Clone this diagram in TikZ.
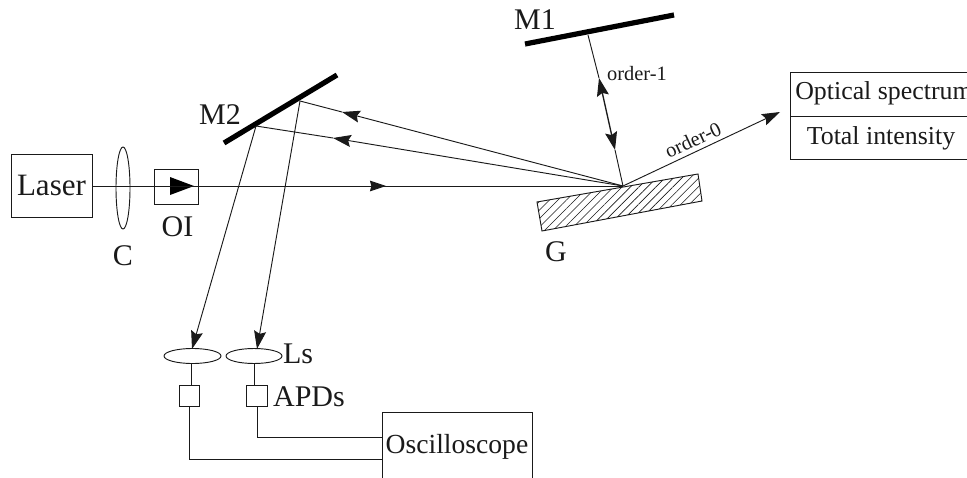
\documentclass[tikz,border=0pt]{standalone}
\usepackage{fontspec}
\setmainfont{Liberation Serif}
\usetikzlibrary{arrows.meta,patterns.meta,shapes.geometric}
\definecolor{ink}{HTML}{1A1A1A}
\tikzset{
  ln/.style={draw=ink,line width=0.7pt},
  tipped/.style={ln,-{Stealth[length=13.5pt,width=9pt,inset=2pt]}},
  mirror/.style={draw=black,line width=3.9pt},
  lens/.style={ln,ellipse,inner sep=0pt},
  sq/.style={ln,rectangle,inner sep=0pt},
  lbl/.style={text=ink,inner sep=0pt,font=\fontsize{22.5}{24}\selectfont},
  mid/.style={text=ink,inner sep=0pt,font=\fontsize{19.4}{21}\selectfont},
  tiny/.style={text=ink,inner sep=0pt,font=\fontsize{15.3}{17}\selectfont},
}
\begin{document}
\begin{tikzpicture}[x=0.75pt,y=-0.75pt]
\useasboundingbox (0,0) rectangle (967,478);
\clip (0,0) rectangle (967,478);
% boxes
\node[sq,minimum width=60.75pt,minimum height=47.25pt,font=\fontsize{23.3}{25}\selectfont,text=ink] (laser) at (51.5,185.5) {Laser};
\node[sq,minimum width=33pt,minimum height=26.25pt] (oi) at (176,186.5) {};
\node[sq,minimum width=135pt,minimum height=65.25pt] (spec) at (880,115.5) {};
\coordinate (specL) at (790,116);
\coordinate (specR) at (975,116);
\draw[ln] (specL) -- (specR);
\node[sq,minimum width=112.5pt,minimum height=60pt] (osc) at (457,452) {};
\node[mid,font=\fontsize{20.7}{22}\selectfont] (osclbl) at (457,447) {Oscilloscope};
\node[mid,anchor=west] (optlbl) at (795,93) {Optical spectrum};
\node[mid] (totlbl) at (881,138) {Total intensity};
% optics
\node[lens,minimum width=10.5pt,minimum height=61.5pt] (lensC) at (123,188) {};
\coordinate (hitG) at (623,186);
\coordinate (oiTipBase) at (170,186);
\coordinate (oiTip) at (194,186);
\coordinate (beamTip) at (386,186);
\draw[ln] (laser.east |- hitG) -- (hitG);
\fill[black] (170,177) -- (oiTip) -- (170,195) -- cycle;
\draw[ln,-{Stealth[length=12pt,width=8pt,inset=1pt]}] (oiTipBase) -- (beamTip);
% grating
\coordinate (g1) at (537,202);
\coordinate (g2) at (698,174);
\coordinate (g3) at (702,201);
\coordinate (g4) at (542,231);
\path[pattern={Lines[angle=45,distance=4.5pt,line width=0.45pt]},pattern color=ink]
  (g1) -- (g2) -- (g3) -- (g4) -- cycle;
\draw[ln] (g1) -- (g2) -- (g3) -- (g4) -- cycle;
% mirrors
\coordinate (m2a) at (224,143);
\coordinate (m2b) at (337,75);
\coordinate (m1a) at (525,44);
\coordinate (m1b) at (674,15);
\draw[mirror] (m2a) -- (m2b);
\draw[mirror] (m1a) -- (m1b);
% rays
\coordinate (hitL) at (256,126);
\coordinate (hitU) at (300,101);
\coordinate (hitM1) at (588,35);
\coordinate (tipU) at (342,112);
\coordinate (tipL) at (333,138);
\draw[tipped] (hitG) -- (tipU);
\draw[ln] (tipU) -- (hitU);
\draw[tipped] (hitG) -- (tipL);
\draw[ln] (tipL) -- (hitL);
\coordinate (o1a) at (599,78);
\coordinate (o1b) at (615,150);
\draw[ln] (hitM1) -- (o1a);
\draw[ln] (o1b) -- (hitG);
\draw[ln,line width=1pt,{Stealth[length=13.5pt,width=9pt,inset=2pt]}-{Stealth[length=13.5pt,width=9pt,inset=2pt]}] (o1a) -- (o1b);
\coordinate (o0tip) at (780,112);
\draw[tipped] (hitG) -- (o0tip);
% detection
\node[lens,minimum width=42.75pt,minimum height=11.25pt] (l1) at (192.5,356) {};
\node[lens,minimum width=42pt,minimum height=11.25pt] (l2) at (254,356) {};
\node[sq,minimum size=15.5pt] (a1) at (189.5,396) {};
\node[sq,minimum size=15.5pt] (a2) at (257,396) {};
\draw[tipped] (hitL) -- (192,349);
\draw[tipped] (hitU) -- (257,349);
\coordinate (v1) at (191,386);
\coordinate (v2) at (254,386);
\draw[ln] (l1.south -| v1) -- (v1);
\draw[ln] (l2.south -| v2) -- (v2);
\coordinate (r1) at (0,459);
\coordinate (r2) at (0,437);
\draw[ln] (a1.south) |- (osc.west |- r1);
\draw[ln] (a2.south) |- (osc.west |- r2);
% labels
\node[lbl] (lC) at (123,256) {C};
\node[lbl] (lOI) at (177.5,226.5) {OI};
\node[lbl] (lM2) at (220,115) {M2};
\node[lbl] (lM1) at (535,20) {M1};
\node[lbl] (lG) at (556,251.5) {G};
\node[lbl] (lLs) at (298,354) {Ls};
\node[lbl] (lAPD) at (309,397) {APDs};
\node[tiny] (lo1) at (637,74) {order-1};
\node[tiny,rotate=25] (lo0) at (693,140) {order-0};
\end{tikzpicture}
\end{document}
